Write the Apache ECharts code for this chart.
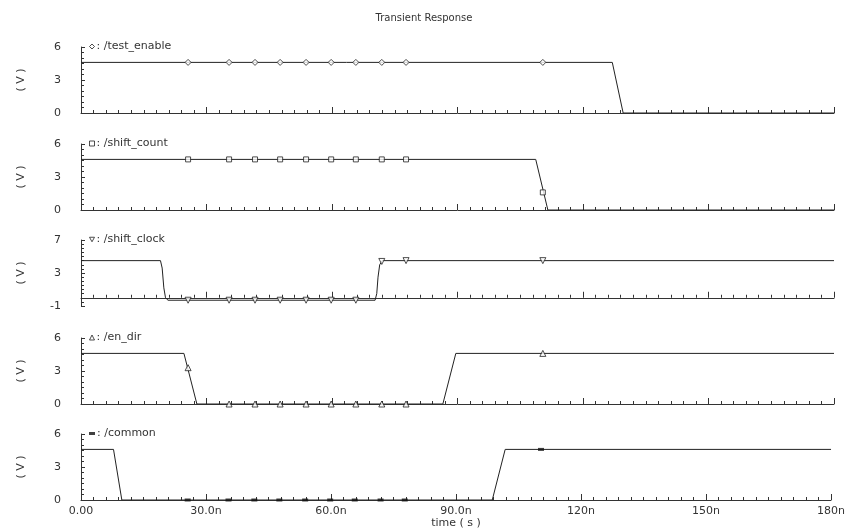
<!DOCTYPE html>
<html>
<head>
<meta charset="utf-8">
<script src="https://cdn.jsdelivr.net/npm/echarts@6/dist/echarts.min.js"></script>
<style>html,body{margin:0;padding:0;background:#fff}#c{width:848px;height:531px}</style>
</head>
<body>
<div id="c"></div>
<script>
// ---- data (time in ns, voltage in V) ----
const timeTickLabels = ['0.00', '30.0n', '60.0n', '90.0n', '120n', '150n', '180n'];
const signals = ['/test_enable', '/shift_count', '/shift_clock', '/en_dir', '/common'];

const testEnableT = [0, 127.0, 129.6, 180];
const testEnableV = [4.6, 4.6, 0, 0];

const shiftCountT = [0, 108.7, 111.6, 180];
const shiftCountV = [4.6, 4.6, 0, 0];

const shiftClockT = [0, 19.0, 19.4, 19.8, 20.2, 20.8, 70.3, 70.7, 71.0, 71.4, 72.0, 180];
const shiftClockV = [4.5, 4.5, 3.6, 1.2, 0.0, -0.3, -0.3, 0.5, 2.5, 4.0, 4.5, 4.5];

const enDirT = [0, 24.6, 27.7, 86.5, 89.6, 180];
const enDirV = [4.6, 4.6, 0, 0, 4.6, 4.6];

const commonT = [0, 7.8, 9.8, 98.7, 101.8, 180];
const commonV = [4.6, 4.6, 0, 0, 4.6, 4.6];

const markerT = [25.6, 35.4, 41.6, 47.6, 53.8, 59.8, 65.7, 71.9, 77.7, 110.4];
const testEnableM = [4.6, 4.6, 4.6, 4.6, 4.6, 4.6, 4.6, 4.6, 4.6, 4.6];
const shiftCountM = [4.6, 4.6, 4.6, 4.6, 4.6, 4.6, 4.6, 4.6, 4.6, 1.6];
const shiftClockM = [-0.3, -0.3, -0.3, -0.3, -0.3, -0.3, -0.3, 4.4, 4.5, 4.5];
const enDirM = [3.3, 0, 0, 0, 0, 0, 0, 0, 0, 4.6];
const commonM = [0, 0, 0, 0, 0, 0, 0, 0, 0, 4.6];

const yMin = [0, 0, -1, 0, 0];
const yMax = [6, 6, 7, 6, 6];
const yStep = [3, 3, 4, 3, 3];

// ---- build ----
const waveT = [testEnableT, shiftCountT, shiftClockT, enDirT, commonT];
const waveV = [testEnableV, shiftCountV, shiftClockV, enDirV, commonV];
const markV = [testEnableM, shiftCountM, shiftClockM, enDirM, commonM];

const FONT = 'DejaVu Sans';
const INK = '#333';
const tops = [47, 144, 240, 338, 434];
const H = 66;

const downTri = 'path://M0,0L10,0L5,9Z';
const symbols = ['diamond', 'rect', downTri, 'triangle', 'rect'];
const symSizes = [6, 5, 6, 6, [6, 3]];
const hollow = [true, true, true, true, false];

const zip = (a, b) => a.map((t, i) => [t, b[i]]);

const grid = tops.map(t => ({ left: 81, right: 14, top: t, height: H }));

const xAxis = tops.map((t, i) => ({
  type: 'value', gridIndex: i, min: 0, max: 180, interval: 30,
  axisLine: { show: true, lineStyle: { color: INK, width: 1 } },
  axisTick: { show: true, inside: true, length: 6, lineStyle: { color: INK } },
  minorTick: { show: true, splitNumber: 10, length: 3, lineStyle: { color: INK } },
  splitLine: { show: false },
  axisLabel: {
    show: i === 4, margin: 6, color: INK, fontFamily: FONT, fontSize: 11,
    formatter: v => timeTickLabels[Math.round(v / 30)]
  },
  name: i === 4 ? 'time ( s )' : '',
  nameLocation: 'middle', nameGap: 18,
  nameTextStyle: { color: INK, fontFamily: FONT, fontSize: 11 }
}));

const yAxis = tops.map((t, i) => ({
  type: 'value', gridIndex: i, min: yMin[i], max: yMax[i], interval: yStep[i],
  axisLine: { show: true, lineStyle: { color: INK, width: 1 } },
  axisTick: { show: true, inside: true, length: 4, lineStyle: { color: INK } },
  minorTick: { show: true, splitNumber: yStep[i] * 2, length: 3, lineStyle: { color: INK } },
  splitLine: { show: false },
  axisLabel: { margin: 20, color: INK, fontFamily: FONT, fontSize: 11 },
  name: '( V )', nameLocation: 'middle', nameGap: 54, nameRotate: 90,
  nameTextStyle: { color: INK, fontFamily: FONT, fontSize: 11 }
}));

const series = [];
signals.forEach((s, i) => {
  series.push({
    name: s + ' wave', type: 'line', xAxisIndex: i, yAxisIndex: i,
    data: zip(waveT[i], waveV[i]), showSymbol: false, silent: true,
    lineStyle: { color: '#222', width: 1 }, z: 3
  });
  series.push({
    name: s, type: 'scatter', xAxisIndex: i, yAxisIndex: i,
    data: zip(markerT, markV[i]), symbol: symbols[i], symbolSize: symSizes[i],
    itemStyle: hollow[i]
      ? { color: '#fff', borderColor: '#222', borderWidth: 1 }
      : { color: '#111' },
    z: 4
  });
});

const legend = signals.map((s, i) => ({
  data: [s], left: 84, top: tops[i] - 11, orient: 'horizontal',
  icon: symbols[i],
  itemWidth: Array.isArray(symSizes[i]) ? symSizes[i][0] : 5,
  itemHeight: Array.isArray(symSizes[i]) ? symSizes[i][1] : 5,
  itemStyle: hollow[i]
    ? { color: '#fff', borderColor: '#222', borderWidth: 1 }
    : { color: '#111' },
  selectedMode: false,
  formatter: ': {name}',
  textStyle: { color: INK, fontFamily: FONT, fontSize: 11, padding: [0, 0, 0, -3] }
}));

const chart = echarts.init(document.getElementById('c'), null, { renderer: 'canvas' });
chart.setOption({
  animation: false,
  backgroundColor: '#fff',
  title: {
    text: 'Transient Response', left: 'center', top: 8,
    textStyle: { color: INK, fontFamily: FONT, fontSize: 10, fontWeight: 'normal' }
  },
  legend, grid, xAxis, yAxis, series
});
</script>
</body>
</html>
